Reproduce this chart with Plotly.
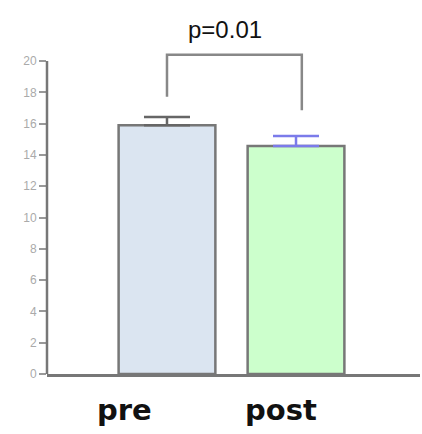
import plotly.graph_objects as go

categories = ["pre", "post"]
means = [15.9, 14.57]
errors = [0.52, 0.64]
fills = ["#dbe5f1", "#ccffcc"]
err_colors = ["#666666", "#7b7bea"]
tick_vals = list(range(0, 21, 2))
p_label = "p=0.01"

xs = list(range(len(categories)))

fig = go.Figure()
for i, (c, m, e) in enumerate(zip(categories, means, errors)):
    fig.add_trace(go.Bar(
        x=[xs[i]], y=[m], width=0.75,
        marker=dict(color=fills[i], line=dict(color="#777777", width=2.5)),
        error_y=dict(type="data", array=[e], arrayminus=[0], symmetric=False,
                     color=err_colors[i], thickness=2.5, width=23),
        showlegend=False, hoverinfo="skip",
    ))

# significance bracket derived from the bar tops
left_bot = means[0] + errors[0] + 1.3
right_bot = means[1] + errors[1] + 1.65
top = 20.4
fig.add_trace(go.Scatter(
    x=[xs[0], xs[0], xs[1] + 0.045, xs[1] + 0.045],
    y=[left_bot, top, top, right_bot],
    mode="lines", line=dict(color="#888888", width=2.5),
    showlegend=False, hoverinfo="skip",
))

fig.add_annotation(x=(xs[0] + xs[1]) / 2 - 0.05, y=22.0, text=p_label, showarrow=False,
                   font=dict(family="Liberation Sans, Arial", size=24, color="#111111"))

label_offsets = [-0.33, -0.115]
for i, c in enumerate(categories):
    fig.add_annotation(x=xs[i] + label_offsets[i], y=0, yref="y", yshift=-36, text="<b>%s</b>" % c,
                       showarrow=False,
                       font=dict(family="DejaVu Sans", size=29, color="#111111"))

# y axis line only up to 20
fig.add_shape(type="line", xref="paper", yref="y", x0=0, x1=0, y0=0, y1=20,
              line=dict(color="#777777", width=2.5))

fig.update_layout(
    width=422, height=434,
    margin=dict(l=47, r=2, t=5, b=60),
    paper_bgcolor="white", plot_bgcolor="white",
    xaxis=dict(range=[-0.93, 1.961], showticklabels=False, showgrid=False, zeroline=False,
               showline=True, linecolor="#777777", linewidth=2.5, ticks=""),
    yaxis=dict(range=[0, 23.58], tickvals=tick_vals, showgrid=False, zeroline=False,
               showline=False, ticks="outside", ticklen=7, tickcolor="#999999", tickwidth=1.5,
               tickfont=dict(family="Liberation Sans, Arial", size=12, color="#aaaaaa")),
)

fig.write_html("out.html", config={"displayModeBar": False},
               post_script="document.body.style.margin='0';document.body.style.padding='0';")
